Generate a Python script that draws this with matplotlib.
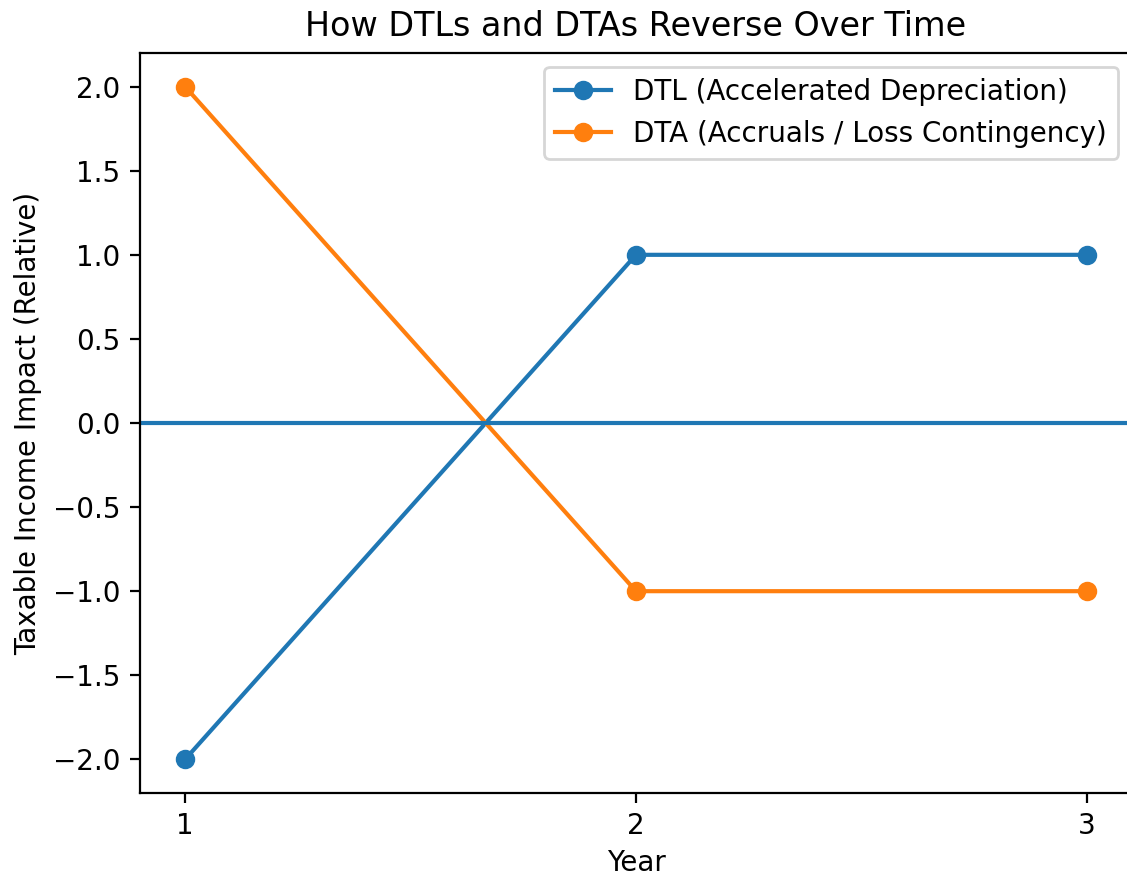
import matplotlib
matplotlib.use("Agg")
import matplotlib.pyplot as plt

years = [1, 2, 3]
dtl = [-2, 1, 1]
dta = [2, -1, -1]
labels = ["DTL (Accelerated Depreciation)", "DTA (Accruals / Loss Contingency)"]

s = 2.0
fig = plt.figure(figsize=(11.27, 8.77), dpi=100)
ax = fig.add_axes([140/1127, 1 - 793/877, (1132 - 140)/1127, (793 - 53)/877])
ax.plot(years, dtl, marker='o', label=labels[0], lw=1.5*s, ms=6*s, mew=1.0*s)
ax.plot(years, dta, marker='o', label=labels[1], lw=1.5*s, ms=6*s, mew=1.0*s)
ax.axhline(0, lw=1.5*s)
ax.set_xticks(years)
ax.set_title("How DTLs and DTAs Reverse Over Time", fontsize=12*s, pad=6*s)
ax.set_xlabel("Year", fontsize=10*s, labelpad=3*s)
ax.set_ylabel("Taxable Income Impact (Relative)", fontsize=10*s, labelpad=4*s)
ax.tick_params(labelsize=10*s, width=0.8*s, length=3.5*s, pad=3.5*s)
for sp in ax.spines.values():
    sp.set_linewidth(0.8*s)
leg = ax.legend(fontsize=10*s, loc='upper right', borderaxespad=0.5,
                handlelength=2.0, borderpad=0.4, labelspacing=0.5, handletextpad=0.8)
leg.get_frame().set_linewidth(1.0*s)
fig.savefig("out.png", dpi=100)
